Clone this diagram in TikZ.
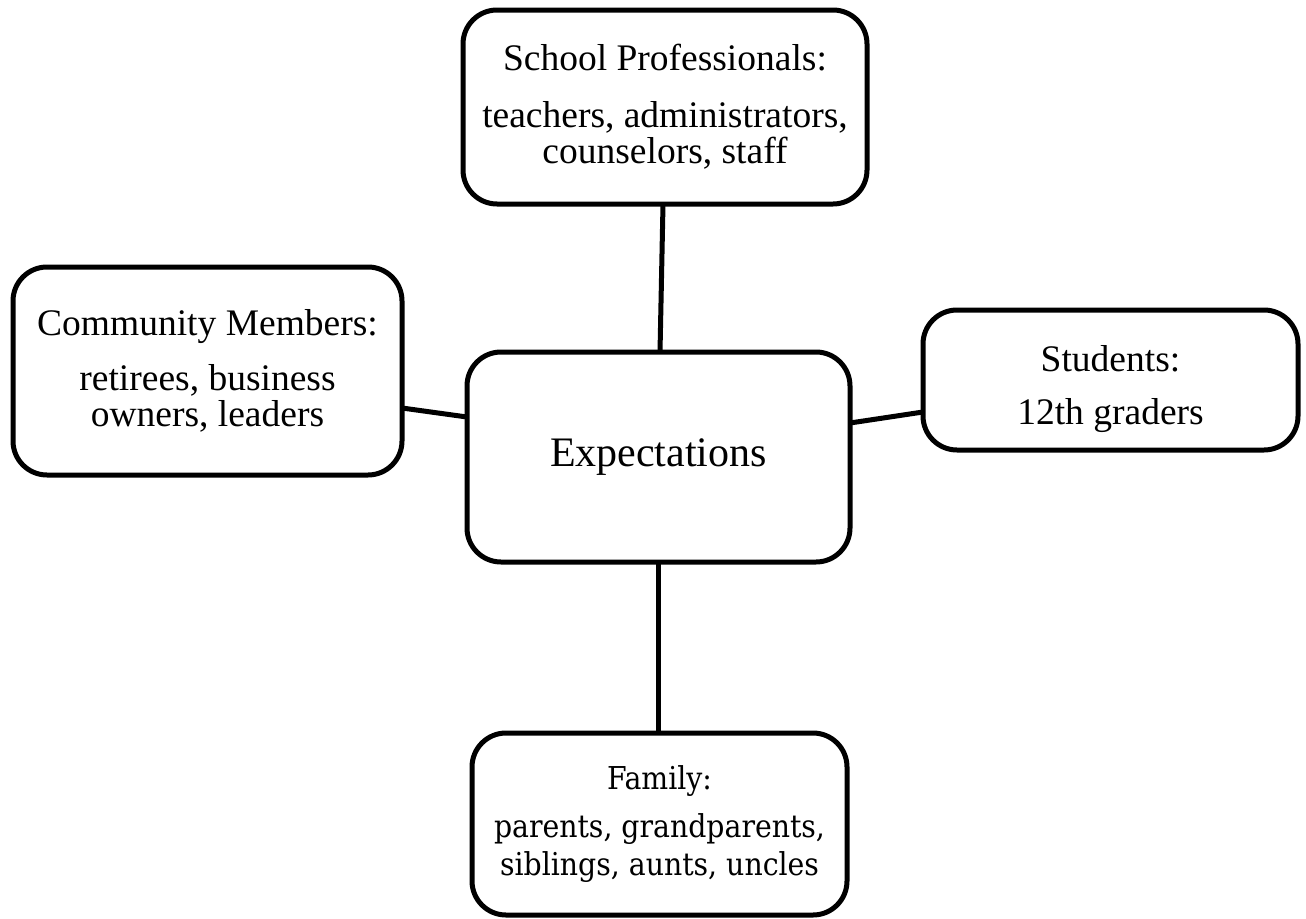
\documentclass[tikz,border=0pt]{standalone}
\usepackage{fontspec}
\setmainfont{Liberation Serif}
\newfontfamily\famfont{DejaVu Serif Condensed}
\begin{document}
\begin{tikzpicture}[x=1pt,y=-1pt,
  box/.style={draw=black,line width=5pt,rounded corners=34pt,fill=white,
    align=center,inner sep=0pt,outer sep=0pt,
    font=\fontsize{37.5}{36}\selectfont},
  link/.style={draw=black,line width=5pt}]
\useasboundingbox (0,0) rectangle (1306,918);
\node[box,minimum width=404pt,minimum height=194pt] (top) at (665,107)
  {School Professionals:\\[21pt]teachers, administrators,\\counselors, staff};
\node[box,minimum width=389pt,minimum height=208pt] (left) at (207.5,371)
  {Community Members:\\[19pt]retirees, business\\owners, leaders};
\node[box,minimum width=383pt,minimum height=210pt,font=\fontsize{42}{44}\selectfont] (mid) at (658.5,457)
  {Expectations};
\node[box,minimum width=375pt,minimum height=140pt] (right) at (1110.5,380)
  {\rule{0pt}{44pt}Students:\\[17pt]12th graders};
\node[box,minimum width=375pt,minimum height=182pt,font=\famfont\fontsize{31.5}{38}\selectfont] (bot) at (659.5,824)
  {Family:\\[10pt]parents, grandparents,\\siblings, aunts, uncles};
\draw[link] ([xshift=-2pt]top.south) -- ([xshift=1.5pt]mid.north);
\draw[link] ([yshift=-37pt]left.east) -- ([yshift=40pt]mid.west);
\draw[link] ([yshift=34pt]mid.east) -- ([yshift=-32pt]right.west);
\draw[link] ([xshift=-0.5pt]mid.south) -- ([xshift=-1.5pt]bot.north);
\end{tikzpicture}
\end{document}
